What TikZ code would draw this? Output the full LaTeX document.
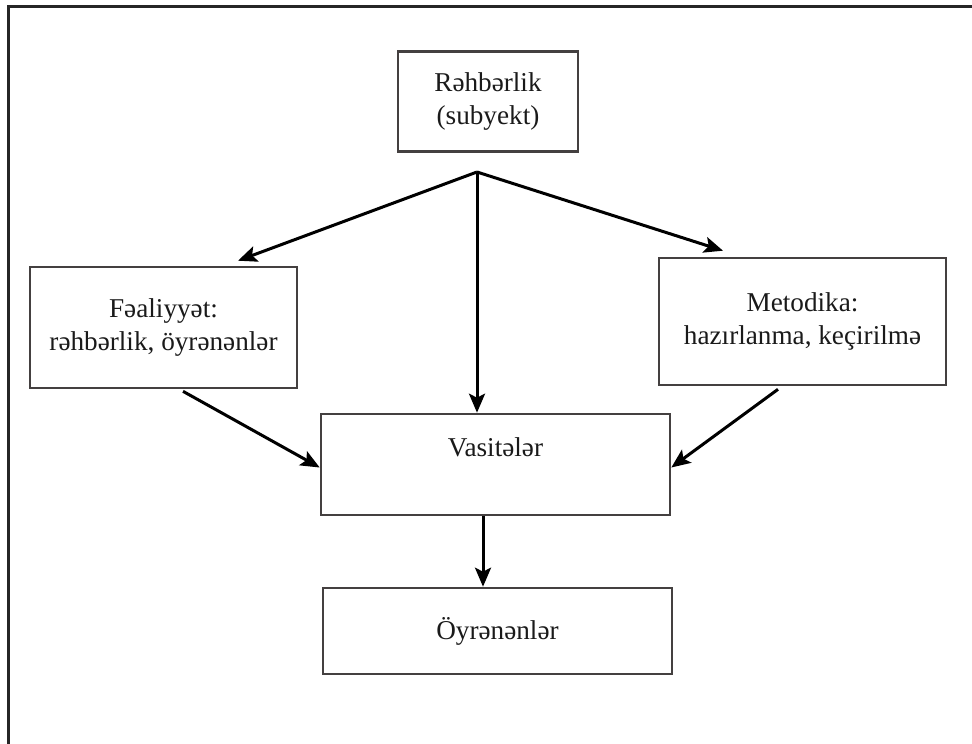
\documentclass[tikz,border=0pt]{standalone}
\usepackage{fontspec}
\setmainfont{Liberation Serif}
\usetikzlibrary{arrows.meta}
\definecolor{boxcol}{HTML}{444040}
\definecolor{txtcol}{HTML}{1A1A1A}
\begin{document}
\begin{tikzpicture}[x=1pt,y=1pt,
  box/.style={draw=boxcol, line width=2.6pt, rectangle, inner sep=0pt, align=center,
    text=txtcol, font=\fontsize{27.2}{32.5}\selectfont},
  arr/.style={draw=black, line width=3pt, -{Stealth[length=19pt,width=16pt,inset=4pt]}},
  frame/.style={draw=black!85, line width=3pt}]
\useasboundingbox (0,0) rectangle (972,-744);
\draw[frame] (8,-744) -- (8,-6) -- (972,-6);

\node[box, minimum width=180pt, minimum height=100pt] (rh) at (488,-101.5) {Rəhbərlik\\(subyekt)};
\node[box, minimum width=267pt, minimum height=121pt] (fa) at (163.5,-327.5) {Fəaliyyət:\\rəhbərlik, öyrənənlər};
\node[box, minimum width=287pt, minimum height=127pt] (mt) at (802.5,-321.5) {Metodika:\\hazırlanma, keçirilmə};
\node[box, minimum width=349pt, minimum height=101pt, text depth=34pt] (vs) at (495.5,-464.5) {Vasitələr};
\node[box, minimum width=349pt, minimum height=86pt] (oy) at (497.5,-631) {Öyrənənlər};

\coordinate (apex) at (477,-172);

\draw[arr] (apex) -- ([xshift=74.5pt,yshift=5pt]fa.north);
\draw[arr] (apex) -- ([xshift=-79.5pt,yshift=6pt]mt.north);
\draw[arr] (apex) -- ([xshift=-18.5pt]vs.north);
\draw[arr] ([xshift=19.5pt,yshift=-2pt]fa.south) -- ([yshift=-3pt]vs.west);
\draw[arr] ([xshift=-24.5pt,yshift=-3pt]mt.south) -- ([yshift=-3pt]vs.east);
\draw[arr] ([xshift=-12.5pt]vs.south) -- ([xshift=-14.5pt]oy.north);
\end{tikzpicture}
\end{document}
